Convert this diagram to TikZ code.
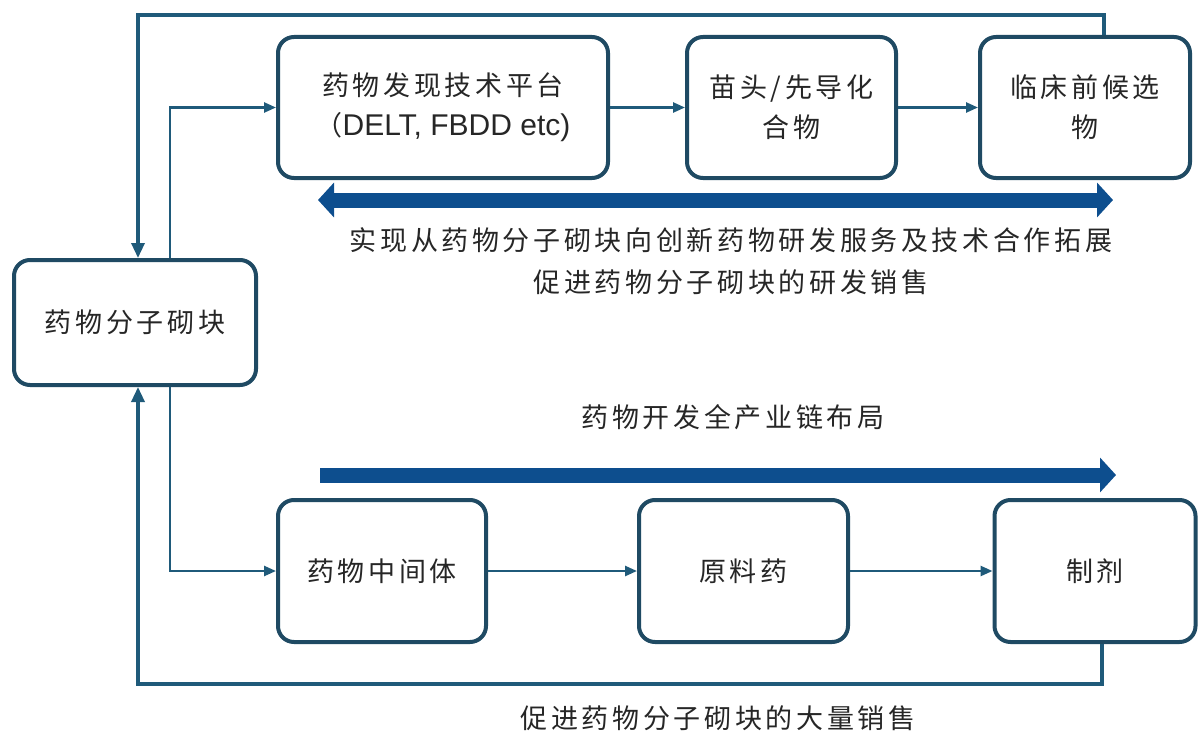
\documentclass[tikz,border=0pt]{standalone}
\usepackage{fontspec}
\setmainfont{Liberation Sans}
\newfontfamily\cjk[LetterSpace=13.5]{Noto Sans CJK SC}
\usetikzlibrary{arrows.meta}
\definecolor{boxline}{HTML}{1F4A63}
\definecolor{thinline}{HTML}{1F5A7A}
\definecolor{bigblue}{HTML}{0D4E8E}
\tikzset{
	box/.style={draw=boxline, line width=4pt, rounded corners=16pt, fill=white, align=center, inner sep=0pt, text=black!85, font=\cjk\fontsize{27}{40}\selectfont},
	link/.style={draw=thinline, line width=2.5pt, -{Triangle[length=12pt,width=10pt]}},
	backline/.style={draw=thinline, line width=3.3pt, -{Triangle[length=15pt,width=13pt]}},
	bigtip/.tip={Triangle[length=16pt,width=34pt]},
	bigarrow/.style={draw=bigblue, line width=15pt},
	note/.style={font=\cjk\fontsize{27}{42}\selectfont, text=black!85, inner sep=0pt, align=center}
}
\begin{document}
\begin{tikzpicture}[x=1pt,y=-1pt]
	\useasboundingbox (0,0) rectangle (1199,733);
	\node[box, minimum width=242pt, minimum height=125pt] (block) at (135,322.5) {药物分子砌块};
	\node[box, minimum width=330pt, minimum height=141pt] (disc) at (443,107.5) {药物发现技术平台\\（{\rmfamily\fontsize{30}{40}\selectfont DELT, FBDD etc)}};
	\node[box, minimum width=209pt, minimum height=141pt] (hit) at (791.5,107.5) {苗头/先导化\\合物};
	\node[box, minimum width=210pt, minimum height=141pt] (pcc) at (1085,107.5) {临床前候选\\物};
	\node[box, minimum width=208pt, minimum height=142pt] (inter) at (382,571) {药物中间体};
	\node[box, minimum width=209pt, minimum height=142pt] (api) at (743.5,571) {原料药};
	\node[box, minimum width=201pt, minimum height=142pt] (form) at (1095,571) {制剂};
	\coordinate (tl) at (138,15);
	\coordinate (tr) at (1104,15);
	\coordinate (bl) at (138,684);
	\coordinate (br) at (1102,684);
	\draw[backline] (pcc.north -| tr) -- (tr) -- (tl) -- (block.north -| tl);
	\draw[backline] (form.south -| br) -- (br) -- (bl) -- (block.south -| bl);
	\draw[link] ([xshift=35pt]block.north) |- (disc.west);
	\draw[link] ([xshift=35pt]block.south) |- (inter.west);
	\draw[link] (disc) -- (hit);
	\draw[link] (hit) -- (pcc);
	\draw[link] (inter) -- (api);
	\draw[link] (api) -- (form);
	\coordinate (ra) at (318,200);
	\coordinate (rb) at (1113,200);
	\coordinate (ca) at (320,475);
	\coordinate (cb) at (1116,475);
	\draw[bigarrow, bigtip-bigtip] (ra) -- (rb);
	\draw[bigarrow, -bigtip] (ca) -- (cb);
	\node[note] (widen) at (731,261) {实现从药物分子砌块向创新药物研发服务及技术合作拓展\\促进药物分子砌块的研发销售};
	\node[note] (chain) at (733,417) {药物开发全产业链布局};
	\node[note] (sales) at (718,718) {促进药物分子砌块的大量销售};
\end{tikzpicture}
\end{document}
